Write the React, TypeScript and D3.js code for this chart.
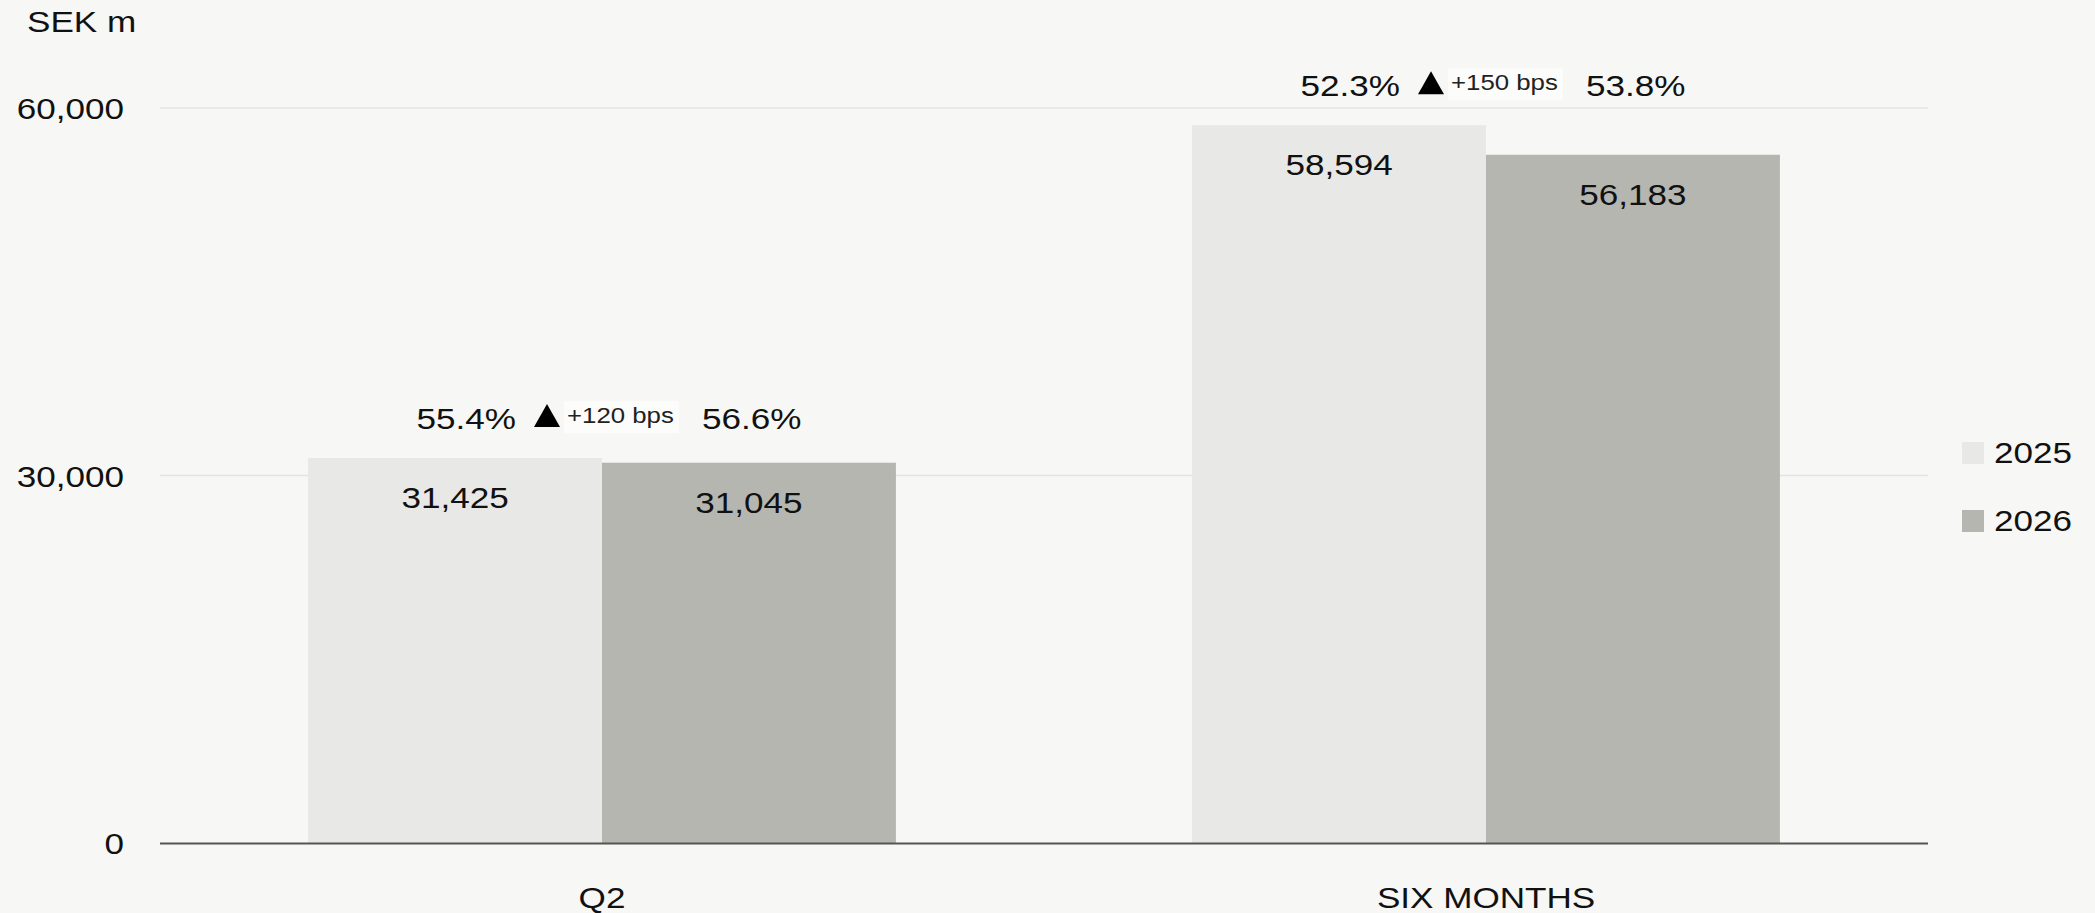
import React from "react";
import * as d3 from "d3";

const categories = ["Q2", "SIX MONTHS"];
const seriesNames = ["2025", "2026"];
const values2025 = [31425, 58594];
const values2026 = [31045, 56183];
const margin2025 = ["55.4%", "52.3%"];
const margin2026 = ["56.6%", "53.8%"];
const marginChange = ["+120 bps", "+150 bps"];
const yTicks = [0, 30000, 60000];
const unitLabel = "SEK m";

const W = 2095;
const H = 913;
const FONT = "'Liberation Sans', Arial, sans-serif";
const colors = ["#e8e8e6", "#b6b6b1"];
const BG = "#f7f7f5";
const STRETCH = 1.17;

type TProps = {
  x: number;
  y: number;
  size?: number;
  anchor?: "start" | "middle" | "end";
  fill?: string;
  stretch?: number;
  children: React.ReactNode;
};

function T({ x, y, size = 30, anchor = "start", fill = "#111", stretch = STRETCH, children }: TProps) {
  return (
    <text
      transform={`translate(${x},${y}) scale(${stretch},1)`}
      fontSize={size}
      textAnchor={anchor}
      fill={fill}
    >
      {children}
    </text>
  );
}

export default function App() {
  const y = d3.scaleLinear().domain([0, 60000]).range([843, 108]);
  const x0 = d3
    .scaleBand<string>()
    .domain(categories)
    .range([160, 1928])
    .paddingInner(0.335)
    .paddingOuter(0.1675);
  const x1 = d3.scaleBand<string>().domain(seriesNames).range([0, x0.bandwidth()]).padding(0);
  const fmt = d3.format(",");
  const series = [values2025, values2026];

  return (
    <svg
      width={W}
      height={H}
      style={{ position: "absolute", left: 0, top: 0, background: BG }}
      fontFamily={FONT}
    >
      <rect x={0} y={0} width={W} height={H} fill={BG} />
      <T x={27} y={32}>{unitLabel}</T>
      {yTicks.map((t) => (
        <g key={t}>
          {t !== 0 && (
            <line x1={160} x2={1928} y1={y(t)} y2={y(t)} stroke="#e4e4e1" strokeWidth={1.5} />
          )}
          <T x={124} y={y(t) + 11} anchor="end">
            {fmt(t)}
          </T>
        </g>
      ))}
      {categories.map((c, i) => {
        const gx = x0(c)!;
        const center = gx + x0.bandwidth() / 2;
        const maxV = Math.max(values2025[i], values2026[i]);
        const mb = y(maxV) - 29;
        return (
          <g key={c}>
            {series.map((vals, s) => {
              const bx = gx + x1(seriesNames[s])!;
              return (
                <g key={s}>
                  <rect
                    x={bx}
                    y={y(vals[i])}
                    width={x1.bandwidth()}
                    height={y(0) - y(vals[i])}
                    fill={colors[s]}
                  />
                  <T x={bx + x1.bandwidth() / 2} y={y(vals[i]) + 50} anchor="middle">
                    {fmt(vals[i])}
                  </T>
                </g>
              );
            })}
            <T x={center - 86} y={mb} anchor="end">
              {margin2025[i]}
            </T>
            <path
              d={`M${center - 68},${mb - 2} L${center - 42},${mb - 2} L${center - 55},${mb - 25} Z`}
              fill="#000"
            />
            <rect x={center - 38} y={mb - 28} width={115} height={32} fill="#fcfcfb" />
            <T x={center - 35} y={mb - 6} size={21.5} fill="#222" stretch={1.2}>
              {marginChange[i]}
            </T>
            <T x={center + 100} y={mb}>
              {margin2026[i]}
            </T>
            <T x={center} y={908} anchor="middle">
              {c}
            </T>
          </g>
        );
      })}
      <line x1={160} x2={1928} y1={843.5} y2={843.5} stroke="#555" strokeWidth={2} />
      {seriesNames.map((s, k) => (
        <g key={s}>
          <rect x={1962} y={442 + k * 68} width={22} height={22} fill={colors[k]} />
          <T x={1994} y={463 + k * 68}>
            {s}
          </T>
        </g>
      ))}
    </svg>
  );
}
